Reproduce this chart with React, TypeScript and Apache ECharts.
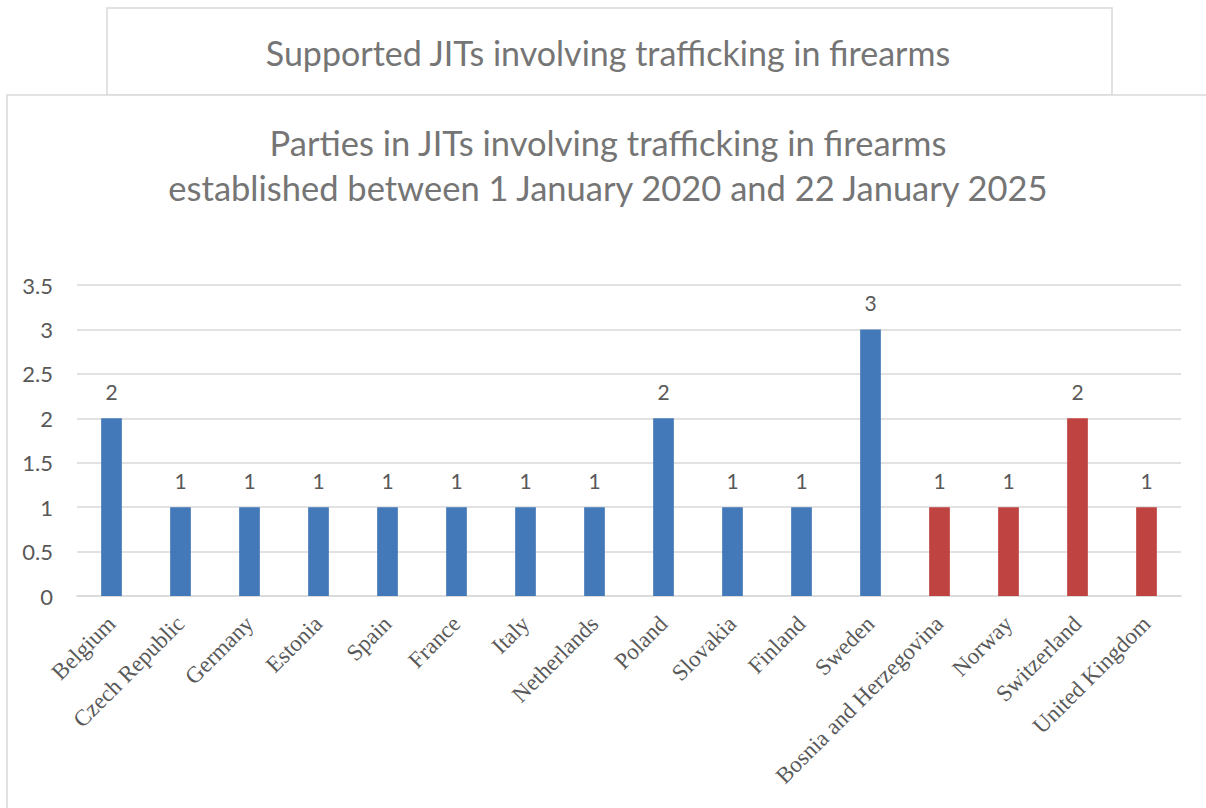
import React, { useEffect, useRef } from "react";
import * as echarts from "echarts";

const categories = [
  "Belgium", "Czech Republic", "Germany", "Estonia", "Spain", "France", "Italy",
  "Netherlands", "Poland", "Slovakia", "Finland", "Sweden",
  "Bosnia and Herzegovina", "Norway", "Switzerland", "United Kingdom",
];
const values = [2, 1, 1, 1, 1, 1, 1, 1, 2, 1, 1, 3, 1, 1, 2, 1];
const groups = [
  "EU", "EU", "EU", "EU", "EU", "EU", "EU", "EU", "EU", "EU", "EU", "EU",
  "non-EU", "non-EU", "non-EU", "non-EU",
];
const yTicks = { min: 0, max: 3.5, interval: 0.5 };
const outerTitle = "Supported JITs involving trafficking in firearms";
const chartTitleLines = [
  "Parties in JITs involving trafficking in firearms",
  "established between 1 January 2020 and 22 January 2025",
];

const groupColors: Record<string, string> = { EU: "#4379B8", "non-EU": "#BF4340" };

export default function App() {
  const ref = useRef<HTMLDivElement>(null);
  useEffect(() => {
    if (!ref.current) return;
    const chart = echarts.init(ref.current, undefined, { renderer: "svg" });
    const sans = "Lato, 'Open Sans', sans-serif";
    chart.setOption({
      animation: false,
      backgroundColor: "#ffffff",
      graphic: [
        {
          type: "rect",
          shape: { x: 107, y: 8, width: 1005, height: 87 },
          style: { fill: "#ffffff", stroke: "#d9d9d9", lineWidth: 1.5 },
          z: 0,
        },
        {
          type: "rect",
          shape: { x: 7, y: 95, width: 1220, height: 730 },
          style: { fill: "#ffffff", stroke: "#d9d9d9", lineWidth: 1.5 },
          z: 0,
        },
        {
          type: "text",
          x: 608,
          y: 52,
          style: {
            text: outerTitle,
            fill: "#757575",
            fontFamily: sans,
            fontSize: 34,
            align: "center",
            verticalAlign: "middle",
          },
          z: 1,
        },
        {
          type: "text",
          x: 608,
          y: 142,
          style: {
            text: chartTitleLines[0],
            fill: "#757575",
            fontFamily: sans,
            fontSize: 34.5,
            align: "center",
            verticalAlign: "middle",
          },
          z: 1,
        },
        {
          type: "text",
          x: 608,
          y: 187,
          style: {
            text: chartTitleLines[1],
            fill: "#757575",
            fontFamily: sans,
            fontSize: 34.5,
            align: "center",
            verticalAlign: "middle",
          },
          z: 1,
        },
      ],
      grid: { left: 77, right: 25, top: 285, bottom: 212, containLabel: false },
      xAxis: {
        type: "category",
        data: categories,
        axisLine: { lineStyle: { color: "#d9d9d9", width: 1.5 } },
        axisTick: { show: false },
        axisLabel: {
          rotate: 45,
          interval: 0,
          margin: 24,
          color: "#595959",
          fontFamily: "'Liberation Serif', 'Times New Roman', serif",
          fontSize: 23,
        },
      },
      yAxis: {
        type: "value",
        min: yTicks.min,
        max: yTicks.max,
        interval: yTicks.interval,
        axisLine: { show: false },
        axisTick: { show: false },
        splitLine: { lineStyle: { color: "#d9d9d9", width: 1.5 } },
        axisLabel: {
          margin: 24,
          color: "#595959",
          fontFamily: sans,
          fontSize: 22,
        },
      },
      series: [
        {
          type: "bar",
          barWidth: "30%",
          data: values.map((v, i) => ({
            value: v,
            itemStyle: { color: groupColors[groups[i]] },
          })),
          label: {
            show: true,
            position: "top",
            distance: 16,
            color: "#595959",
            fontFamily: sans,
            fontSize: 21,
          },
          z: 2,
        },
      ],
    });
    return () => chart.dispose();
  }, []);
  return (
    <div
      ref={ref}
      style={{ position: "absolute", left: 0, top: 0, width: 1206, height: 808 }}
    />
  );
}
